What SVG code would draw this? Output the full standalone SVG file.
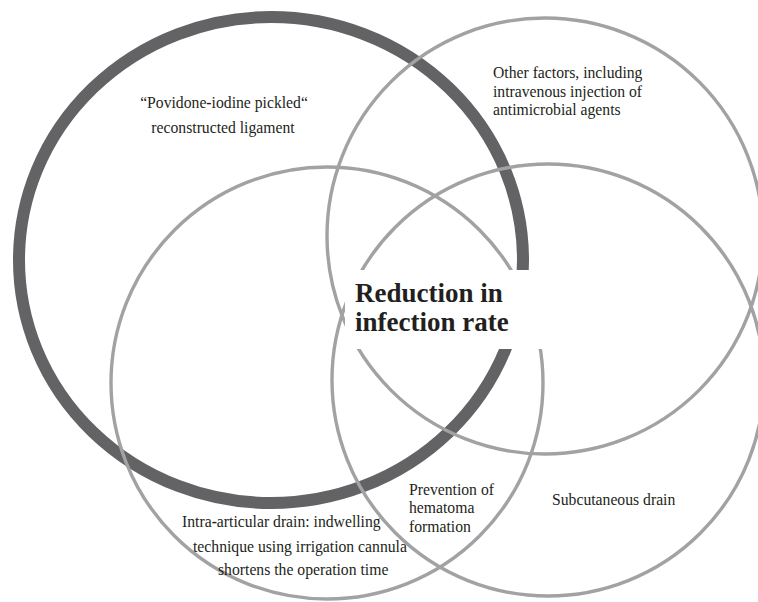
<svg xmlns="http://www.w3.org/2000/svg" width="758" height="602" viewBox="0 0 758 602">
<style>
.dark{fill:none;stroke:#636365;stroke-width:12}
.ring{fill:none;stroke:#a2a2a4;stroke-width:3.4}
.lbl{font-family:"Liberation Serif","Times New Roman",serif;font-size:15.7px;fill:#231f20}
.hy{font-weight:bold}
.main{font-family:"Liberation Serif","Times New Roman",serif;font-size:27px;font-weight:bold;fill:#231f20}
</style>
<rect width="758" height="602" fill="#ffffff"/>
<g id="node-ligament">
<ellipse class="dark" cx="271" cy="260" rx="252" ry="243"/>
<text class="lbl" x="224" y="108" text-anchor="middle">“Povidone<tspan class="hy">-</tspan>iodine pickled“</text>
<text class="lbl" x="223" y="133" text-anchor="middle">reconstructed ligament</text>
</g>
<g id="node-other">
<circle class="ring" cx="545" cy="236" r="218"/>
<text class="lbl" x="493" y="78">Other factors, including</text>
<text class="lbl" x="493" y="97">intravenous injection of</text>
<text class="lbl" x="493" y="115">antimicrobial agents</text>
</g>
<g id="node-intra">
<circle class="ring" cx="327" cy="383" r="216"/>
<text class="lbl" x="182" y="527">Intra<tspan class="hy">-</tspan>articular drain: indwelling</text>
<text class="lbl" x="193" y="552">technique using irrigation cannula</text>
<text class="lbl" x="218" y="575">shortens the operation time</text>
</g>
<g id="node-subcut">
<circle class="ring" cx="548" cy="380" r="216"/>
<text class="lbl" x="552" y="505">Subcutaneous drain</text>
</g>
<g id="node-hematoma">
<text class="lbl" x="409" y="495">Prevention of</text>
<text class="lbl" x="409" y="513">hematoma</text>
<text class="lbl" x="409" y="532">formation</text>
</g>
<g id="connectors"></g>
<g id="node-center">
<rect x="345" y="270" width="203" height="79" fill="#ffffff"/>
<text class="main" x="355" y="302">Reduction in</text>
<text class="main" x="355" y="331">infection rate</text>
</g>
</svg>
